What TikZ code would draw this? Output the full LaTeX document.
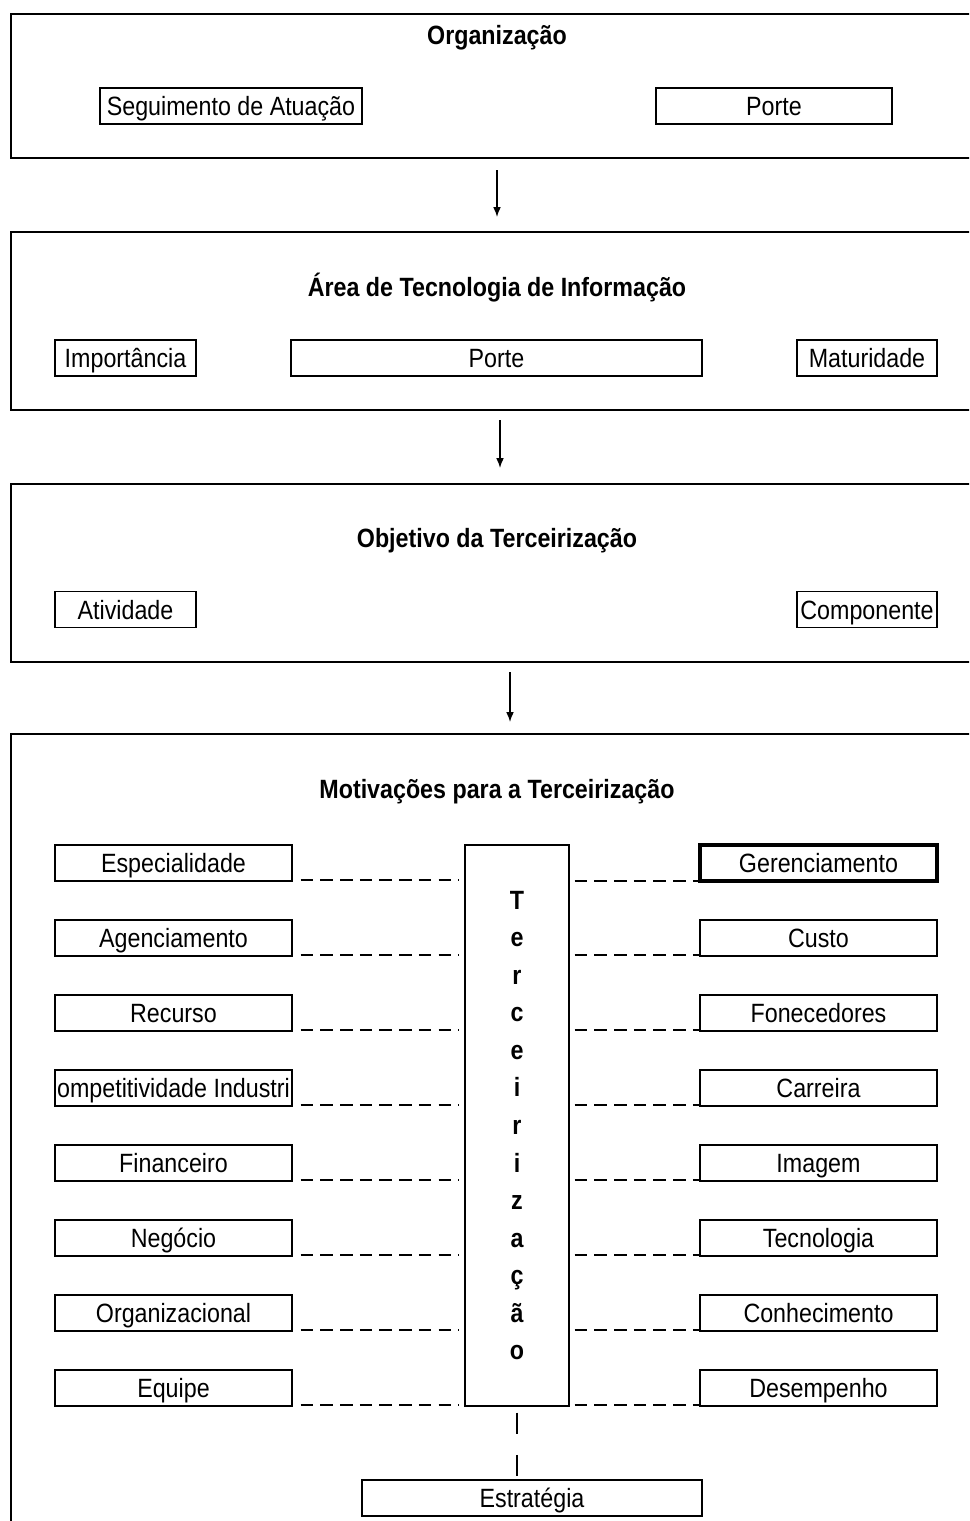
\documentclass[tikz,border=0pt]{standalone}
\usepackage{fontspec}
\setmainfont{Liberation Sans}[FakeStretch=0.88]
\usetikzlibrary{positioning, calc, arrows.meta}

\newcommand{\pxu}{0.025cm}
\newcommand{\fonte}{\fontsize{18.8pt}{22pt}\selectfont}

\tikzset{
  bloco/.style={draw, line width=1.3pt, inner sep=0pt},
  caixa/.style={draw, line width=1pt, inner sep=0pt, font=\fonte,
    minimum height=36*\pxu, text height=13.5pt, text depth=0pt},
  titulo/.style={inner sep=0pt, font=\fonte\bfseries, text height=13.5pt, text depth=0pt},
  tracejado/.style={line width=1.3pt, dash pattern=on 9pt off 5pt},
}

\begin{document}
\begin{tikzpicture}[x=\pxu, y=-\pxu, >={Latex[length=7pt,width=5.5pt]}]

\useasboundingbox (0,0) rectangle (969,1521);
\clip (0,0) rectangle (969,1521);

% blocos
\node[bloco, minimum width=964*\pxu, minimum height=144*\pxu] (org) at (493,86) {};
\node[bloco, minimum width=964*\pxu, minimum height=178*\pxu] (ti) at (493,321) {};
\node[bloco, minimum width=964*\pxu, minimum height=178*\pxu] (obj) at (493,573) {};
\node[bloco, minimum width=964*\pxu, minimum height=800*\pxu] (mot) at (493,1134) {};

\node[titulo] (torg) at (497,35) {Organização};
\node[titulo] (tti) at (497,287) {Área de Tecnologia de Informação};
\node[titulo] (tobj) at (497,538) {Objetivo da Terceirização};
\node[titulo] (tmot) at (497,789) {Motivações para a Terceirização};

% Organização
\node[caixa, minimum width=262*\pxu] (seg) at (231,106) {Seguimento de Atuação};
\node[caixa, minimum width=236*\pxu] (porte) at (774,106) {Porte};

% Área de TI
\node[caixa, minimum width=141*\pxu] (imp) at (125.5,358) {Importância};
\node[caixa, minimum width=411*\pxu] (portet) at (496.5,358) {Porte};
\node[caixa, minimum width=140*\pxu] (mat) at (867,358) {Maturidade};

% Objetivo
\node[caixa, minimum width=141*\pxu] (ativ) at (125.5,609.5) {Atividade};
\node[caixa, minimum width=140*\pxu] (comp) at (867,609.5) {Componente};

% setas entre os blocos
\coordinate (s1) at (497,170);
\coordinate (c1) at (497,217);
\coordinate (s2) at (500,420);
\coordinate (c2) at (500,468);
\coordinate (s3) at (510,672);
\coordinate (c3) at (510,722);
\draw[->, line width=1pt] (s1) -- (c1);
\draw[->, line width=1pt] (s2) -- (c2);
\draw[->, line width=1pt] (s3) -- (c3);

% Motivações
\node[draw, line width=1pt, inner sep=0pt, minimum width=104*\pxu, minimum height=561*\pxu,
  align=center, font=\fontsize{18.8pt}{26.7pt}\selectfont\bfseries] (terc) at (517,1125.5)
  {T\\e\\r\\c\\e\\i\\r\\i\\z\\a\\ç\\ã\\o};

\foreach \t [count=\i] in {Especialidade, Agenciamento, Recurso, ompetitividade Industri,
    Financeiro, Negócio, Organizacional, Equipe}
  \node[caixa, minimum width=237*\pxu] (e\i) at (173.5,{863+75*(\i-1)}) {\t};

\node[caixa, line width=2.4pt, minimum width=237*\pxu] (d1) at (818.5,863) {Gerenciamento};
\foreach \t [count=\i from 2] in {Custo, Fonecedores, Carreira,
    Imagem, Tecnologia, Conhecimento, Desempenho}
  \node[caixa, minimum width=237*\pxu] (d\i) at (818.5,{863+75*(\i-1)}) {\t};

\foreach \i in {1,...,8} {
  \draw[tracejado] ($(e\i.south east)+(8,-2)$) -- ($(e\i.south east -| terc.west)+(-5,-2)$);
  \draw[tracejado] ($(d\i.south west -| terc.east)+(5,-2)$) -- ($(d\i.south west)+(0,-2)$);
}

\node[caixa, minimum width=340*\pxu] (estr) at (532,1498) {Estratégia};
\draw[line width=1.3pt, dash pattern=on 15pt off 15pt] ($(terc.south)+(0,6)$) -- (terc.south |- estr.north);

\end{tikzpicture}
\end{document}
